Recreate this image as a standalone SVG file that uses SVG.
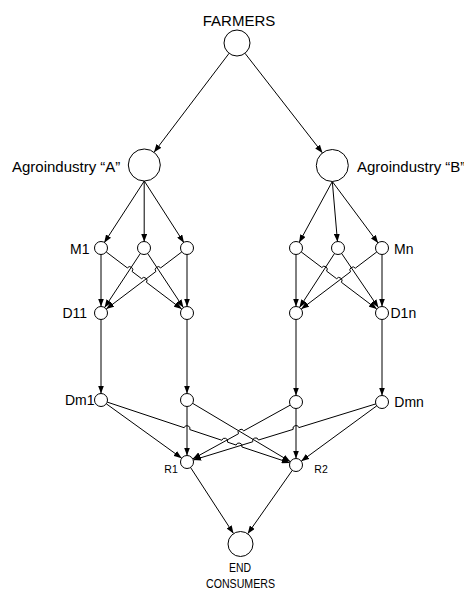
<svg xmlns="http://www.w3.org/2000/svg" width="464" height="591" viewBox="0 0 464 591">
<style>
.n{fill:#fff;stroke:#000;stroke-width:1}
.e{fill:none;stroke:#000;stroke-width:1;marker-end:url(#ah)}
text{font-family:"Liberation Sans",Arial,sans-serif;fill:#000}
.big{font-size:15px}
.mid{font-size:14px}
.end{font-size:13px}
.sm{font-size:10.5px}
</style>
<defs>
<marker id="ah" viewBox="0 0 8 6" refX="8" refY="3" markerWidth="8" markerHeight="6" markerUnits="userSpaceOnUse" orient="auto"><path d="M0,0 L8,3 L0,6 z" fill="#000"/></marker>
</defs>
<rect width="464" height="591" fill="#fff"/>
<g id="connectors">
<path class="e" d="M229.1,53.3 L154,152.3"/>
<path class="e" d="M245,53.3 L322.5,152.9"/>
<path class="e" d="M144.3,181 L104.2,242.8"/>
<path class="e" d="M144.2,181 L144.2,241.8"/>
<path class="e" d="M144.3,181 L184,242.8"/>
<path class="e" d="M332.3,181.5 L299.1,242.6"/>
<path class="e" d="M332.3,181.5 L337.5,241.8"/>
<path class="e" d="M332.3,181.5 L378.1,243.1"/>
<path class="e" d="M101,254.5 L101,306.5"/>
<path class="e" d="M106.2,251.9 L127.3,267.9 A3,3 0 0 1 132.1,271.5 L141.6,278.7 A3,3 0 0 1 146.4,282.3 L181.8,309.1"/>
<path class="e" d="M140.4,253.4 L104.6,307.6"/>
<path class="e" d="M147.6,253.4 L183.4,307.6"/>
<path class="e" d="M181.8,251.9 L160.7,267.9 A3,3 0 0 0 155.9,271.5 L106.2,309.1"/>
<path class="e" d="M187,254.5 L187,306.5"/>
<path class="e" d="M296,254.5 L296,306.5"/>
<path class="e" d="M301.2,251.9 L321.8,267.5 A3,3 0 0 1 326.6,271.1 L336.6,278.7 A3,3 0 0 1 341.4,282.3 L376.8,309.1"/>
<path class="e" d="M334.5,253.5 L299.5,307.5"/>
<path class="e" d="M341.6,253.4 L378.4,307.6"/>
<path class="e" d="M376.8,251.9 L355.3,268.2 A3,3 0 0 0 350.5,271.8 L301.2,309.1"/>
<path class="e" d="M382,254.5 L382,306.5"/>
<path class="e" d="M101,319.5 L101,393.5"/>
<path class="e" d="M187,319.5 L187,393.5"/>
<path class="e" d="M296,319.5 L296,395.5"/>
<path class="e" d="M382,319.5 L382,395.5"/>
<path class="e" d="M106.3,403.8 L181.7,458.2"/>
<path class="e" d="M107.2,402.1 L184.15,427.72 A3,3 0 0 1 189.85,429.62 L221.85,440.25 A3,3 0 0 1 227.55,442.15 L236.15,445.05 A3,3 0 0 1 241.85,446.95 L289.8,462.9"/>
<path class="e" d="M187,406.5 L187,455.5"/>
<path class="e" d="M192.6,403.3 L290.4,461.7"/>
<path class="e" d="M290.3,405.1 L243.73,430.85 A3,3 0 0 0 238.47,433.75 L192.7,458.9"/>
<path class="e" d="M296,408.5 L296,458.5"/>
<path class="e" d="M375.8,403.9 L298.87,427.62 A3,3 0 0 0 293.13,429.38 L258.47,440.02 A3,3 0 0 0 252.73,441.78 L193.2,460.1"/>
<path class="e" d="M376.8,405.8 L301.2,461.2"/>
<path class="e" d="M190.5,467.4 L233.5,533.6"/>
<path class="e" d="M292.3,470.3 L247.7,533.8"/>
</g>
<g id="farmers"><circle class="n" cx="237" cy="43" r="13"/><text class="big" x="239" y="26" text-anchor="middle">FARMERS</text></g>
<g id="agroA"><circle class="n" cx="144.3" cy="165" r="16"/><text class="big" x="12" y="172">Agroindustry “A”</text></g>
<g id="agroB"><circle class="n" cx="332.3" cy="165.5" r="16"/><text class="big" x="357" y="172">Agroindustry “B”</text></g>
<g id="M1"><circle class="n" cx="101" cy="248" r="6.5"/><text class="mid" x="70" y="254">M1</text></g>
<g id="M2"><circle class="n" cx="144" cy="248" r="6.5"/></g>
<g id="M3"><circle class="n" cx="187" cy="248" r="6.5"/></g>
<g id="M4"><circle class="n" cx="296" cy="248" r="6.5"/></g>
<g id="M5"><circle class="n" cx="338" cy="248" r="6.5"/></g>
<g id="Mn"><circle class="n" cx="382" cy="248" r="6.5"/><text class="mid" x="394" y="254">Mn</text></g>
<g id="D11"><circle class="n" cx="101" cy="313" r="6.5"/><text class="mid" x="62.5" y="317.5">D11</text></g>
<g id="D12"><circle class="n" cx="187" cy="313" r="6.5"/></g>
<g id="D13"><circle class="n" cx="296" cy="313" r="6.5"/></g>
<g id="D1n"><circle class="n" cx="382" cy="313" r="6.5"/><text class="mid" x="390.5" y="317.5">D1n</text></g>
<g id="Dm1"><circle class="n" cx="101" cy="400" r="6.5"/><text class="mid" x="65" y="405">Dm1</text></g>
<g id="Dm2"><circle class="n" cx="187" cy="400" r="6.5"/></g>
<g id="Dm3"><circle class="n" cx="296" cy="402" r="6.5"/></g>
<g id="Dmn"><circle class="n" cx="382" cy="402" r="6.5"/><text class="mid" x="394.3" y="407">Dmn</text></g>
<g id="R1"><circle class="n" cx="187" cy="462" r="6.5"/><text class="sm" x="164.3" y="472.7">R1</text></g>
<g id="R2"><circle class="n" cx="296" cy="465" r="6.5"/><text class="sm" x="314.3" y="472.7">R2</text></g>
<g id="consumers"><circle class="n" cx="240.5" cy="544" r="12.5"/><text class="end" x="229" y="571.5" textLength="22" lengthAdjust="spacingAndGlyphs">END</text><text class="end" x="206" y="587.5" textLength="69" lengthAdjust="spacingAndGlyphs">CONSUMERS</text></g>
</svg>
